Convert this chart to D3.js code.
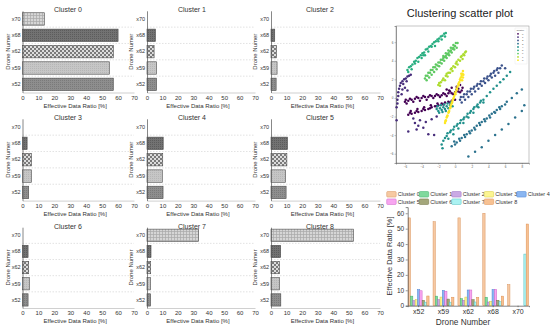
<!DOCTYPE html>
<html>
<head>
<meta charset="utf-8">
<script src="https://cdn.jsdelivr.net/npm/d3@7"></script>
<style>
body { margin: 0; background: #fff; }
svg { display: block; font-family: "Liberation Sans", Arial, sans-serif; }
</style>
</head>
<body>
<svg width="550" height="329"></svg>
<script>
// drone order used by the grouped chart (left to right)
const drones = ["x52", "x59", "x62", "x68", "x70"];
// order of the rows in the small panels (top to bottom)
const panelDrones = ["x70", "x68", "x62", "x59", "x52"];
const clusterNames = ["Cluster 0", "Cluster 1", "Cluster 2", "Cluster 3", "Cluster 4",
  "Cluster 5", "Cluster 6", "Cluster 7", "Cluster 8"];

// effective data ratio [%] per drone: x52, x59, x62, x68, x70
const cluster0 = [57, 54.5, 57, 60, 13.7];
const cluster1 = [6.2, 6.2, 4.6, 5.5, 0];
const cluster2 = [3.3, 3.9, 3.5, 2.4, 0];
const cluster3 = [3.9, 5.6, 5.6, 2.9, 0];
const cluster4 = [10.4, 9.9, 10.2, 10.5, 0];
const cluster5 = [9.7, 9.4, 10.2, 10.6, 0];
const cluster6 = [3.5, 4.3, 3.9, 3.5, 0];
const cluster7 = [2.3, 2.3, 2.4, 2.6, 33.5];
const cluster8 = [6.3, 5.5, 5.4, 6.2, 53];
const clusters = [cluster0, cluster1, cluster2, cluster3, cluster4, cluster5, cluster6, cluster7, cluster8];

const panelTicks = [0, 10, 20, 30, 40, 50, 60, 70];
const groupTicks = [0, 10, 20, 30, 40, 50, 60];
const scatterXTicks = [-6, -4, -2, 0, 2, 4, 6, 8];
const scatterYTicks = [-6, -4, -2, 0, 2, 4, 6];

// scatter points, one list per cluster
const scatter0 = [[-6.0,-0.4],[-5.6,-0.3],[-5.2,-0.2],[-4.8,-0.1],[-4.4,0.0],[-4.0,0.0],[-3.6,0.1],[-3.2,0.1],
  [-2.8,0.2],[-2.4,0.2],[-2.0,0.3],[-1.6,0.3],[-1.2,0.4],[-0.8,0.5],[-0.4,0.5],[0.0,0.6],[0.4,0.7],[0.8,0.8],
  [-5.8,-0.6],[-5.0,-0.4],[-4.2,-0.3],[-3.4,-0.2],[-2.6,0.0],[-1.8,0.1],[-1.0,0.2],[-0.2,0.4],[0.6,0.6],
  [-5.6,-1.8],[-5.2,-1.7],[-4.8,-1.6],[-4.4,-1.5],[-4.0,-1.4],[-3.6,-1.3],[-3.2,-1.2],[-2.8,-1.0],[-2.4,-0.9],
  [-2.0,-0.8],[-1.6,-0.6],[-1.2,-0.5],[-0.8,-0.4],[-0.4,-0.3],[0.0,-0.2],[-5.3,-1.4],[-4.5,-1.2],[-3.7,-1.0],
  [-2.9,-0.8],[-2.1,-0.6],[-1.0,0.9],[-0.4,1.1],[0.2,1.2],[0.6,1.4],[-0.7,0.8],[0.4,1.0],[0.9,1.1],
  [-5.9,-0.2],[-5.4,-0.1],[-4.6,0.1],[-3.8,0.2],[-3.0,0.3],[-2.2,0.4],[-1.4,0.5],[-0.6,0.7],[0.2,0.9],
  [-5.4,-1.6],[-4.6,-1.4],[-3.8,-1.2],[-3.0,-1.1],[-2.2,-0.9],[-1.4,-0.7],[-0.6,-0.5]];
const scatter1 = [[-7.0,-1.0],[-6.9,-0.6],[-6.9,-0.2],[-6.8,0.2],[-6.8,0.6],[-6.7,1.0],[-6.6,1.3],[-6.5,1.6],
  [-6.3,1.8],[-6.1,2.0],[-5.9,2.1],[-5.7,2.3],[-5.5,2.4],[-5.3,2.5],[-6.2,1.5],[-5.8,1.8],[-6.3,0.9],[-6.0,1.1],
  [-5.7,0.8],[-6.4,0.4],[-7.0,-2.4],[-5.6,-3.6],[-4.8,-2.7],[-4.4,-3.0],[-3.8,-3.2],[-3.2,-3.9],[-5.0,-2.2],
  [-4.2,-2.4],[-3.5,-2.6],[-2.8,-2.3],[-2.2,-2.0],[-4.6,-3.4],[-2.5,-4.0]];
const scatter2 = [[0.6,-0.2],[1.0,0.1],[1.4,0.4],[1.8,0.7],[2.2,1.0],[2.6,1.3],[3.0,1.5],[3.4,1.8],[3.8,2.1],
  [4.2,2.4],[4.6,2.7],[5.0,3.0],[5.4,3.2],[5.6,3.5],[0.8,-0.5],[1.2,-0.2],[1.6,0.1],[2.0,0.4],[2.4,0.7],
  [2.8,1.0],[3.2,1.3],[3.6,1.6],[4.0,1.9],[4.4,2.2],[4.8,2.4],[5.2,2.7],[6.0,3.2],
  [0.7,0.1],[1.1,0.4],[1.5,0.7],[1.9,1.0],[2.3,1.2],[2.7,1.5],[3.1,1.8],[3.5,2.1],[3.9,2.3],[4.3,2.6],
  [4.7,2.9],[5.1,3.2]];
const scatter3 = [[-0.4,-5.2],[0.2,-4.8],[0.8,-4.3],[1.4,-3.9],[2.0,-3.5],[2.6,-3.0],[3.2,-2.6],[3.8,-2.2],
  [4.4,-1.7],[5.0,-1.3],[5.6,-0.9],[6.2,-0.4],[6.8,0.0],[7.4,0.5],[8.0,0.9],[-0.1,-4.7],[0.5,-4.4],[1.1,-4.0],
  [1.7,-3.6],[2.3,-3.2],[2.9,-2.7],[3.5,-2.3],[4.1,-1.9],[4.7,-1.5],[5.3,-1.0],[1.6,-6.3],[2.4,-5.8],[3.2,-5.3],
  [4.0,-4.6],[4.8,-4.0],[5.6,-3.4],[6.4,-2.8],[7.2,-2.1],[8.0,-1.4],[8.3,-0.8],
  [0.0,-5.0],[0.6,-4.6],[1.2,-4.2],[1.8,-3.8],[2.4,-3.4],[3.0,-2.9],[3.6,-2.5],[4.2,-2.1],[4.8,-1.6],
  [5.4,-1.2],[6.0,-0.7]];
const scatter4 = [[-1.0,-4.1],[-0.6,-3.7],[-0.2,-3.4],[0.2,-3.0],[0.6,-2.7],[1.0,-2.3],[1.4,-2.0],[1.8,-1.6],
  [2.2,-1.2],[2.6,-0.9],[3.0,-0.5],[3.4,-0.2],[3.8,0.2],[4.2,0.6],[4.6,1.0],[5.0,1.3],[5.4,1.7],[5.8,2.0],
  [6.2,2.4],[6.6,2.8],[-0.8,-4.4],[-0.2,-3.9],[0.4,-3.3],[1.0,-2.7],[1.6,-2.1],[2.2,-1.6],[2.8,-1.0],[3.4,-0.5],
  [-1.6,-5.0],[-1.4,-4.6],[-1.2,-4.3],[-1.5,-5.4],[-2.2,-1.2],[-2.0,-1.4],[-1.8,-1.1],[-1.6,-1.3],[-1.4,-1.0],
  [-1.2,-1.2],[-1.0,-0.9],[-0.8,-1.1],[-0.6,-0.8],[-2.1,-0.9],[-1.7,-0.8],[-1.3,-0.7],[-0.9,-0.6],[-0.5,-0.5],
  [-0.3,-0.9],[-1.9,-1.6],[-1.5,-1.5],[-1.1,-1.4],
  [-0.9,-3.8],[-0.5,-3.5],[-0.1,-3.1],[0.3,-2.8],[0.7,-2.4],[1.1,-2.1],[1.5,-1.7],[1.9,-1.4],[2.3,-1.0],
  [2.7,-0.7],[3.1,-0.3]];
const scatter5 = [[-5.7,3.0],[-5.5,3.3],[-5.3,3.4],[-5.1,3.6],[-4.9,3.9],[-4.7,4.0],[-4.5,4.3],[-4.3,4.4],
  [-4.1,4.6],[-3.9,4.8],[-3.7,4.9],[-3.5,5.2],[-3.3,5.3],[-3.1,5.5],[-2.9,5.6],[-2.7,5.8],[-2.5,6.0],[-2.3,6.1],
  [-2.1,6.3],[-1.9,6.4],[-1.7,6.6],[-1.5,6.7],[-1.3,6.9],[-1.1,7.0],[-4.8,3.7],[-3.8,4.6],[-2.8,5.5],[-2.0,6.1],
  [-5.6,2.8],[-5.2,3.1],[-4.4,3.9],[-4.0,4.3],[-3.6,4.6],[-3.2,5.0],[-2.4,5.6],[-1.6,6.3],[-1.2,6.6]];
const scatter6 = [[-3.6,2.1],[-3.3,2.4],[-3.0,2.7],[-2.7,3.0],[-2.4,3.3],[-2.1,3.5],[-1.8,3.8],[-1.5,4.1],
  [-1.2,4.4],[-0.9,4.7],[-0.6,5.0],[-0.3,5.3],[0.0,5.6],[0.3,5.9],[-3.4,1.9],[-3.1,2.2],[-2.8,2.5],[-2.5,2.8],
  [-2.2,3.1],[-1.9,3.4],[-1.6,3.7],[-1.3,4.0],[-1.0,4.3],[-0.7,4.6],[-0.4,4.9],[-0.1,5.2],[0.2,5.4],
  [-1.4,4.3],[-1.1,4.5],[-0.8,4.8],[-0.5,5.1],[-0.2,5.4],
  [-3.5,2.4],[-3.2,2.7],[-2.9,3.0],[-2.6,3.3],[-2.3,3.6],[-2.0,3.8],[-1.7,4.1],[-1.4,4.5],[-1.1,4.8],
  [-0.8,5.1],[-0.5,5.4],[-0.2,5.7],[0.1,5.9]];
const scatter7 = [[-2.0,1.4],[-1.7,1.7],[-1.4,2.1],[-1.1,2.4],[-0.8,2.7],[-0.5,3.1],[-0.2,3.4],[0.1,3.7],
  [0.4,4.1],[0.7,4.4],[1.0,4.7],[1.3,5.0],[-1.8,1.3],[-1.2,1.9],[-0.6,2.7],[0.0,3.3],[0.6,4.0],[1.1,4.6],
  [-1.9,1.6],[-1.5,1.9],[-1.0,2.6],[-0.4,3.2],[0.2,3.9],[0.8,4.5],[1.2,4.9],[-0.9,2.3],[-0.3,2.9],[0.3,3.6],
  [0.9,4.2]];
const scatter8 = [[-1.2,-2.7],[-1.1,-2.4],[-1.0,-2.1],[-0.9,-1.9],[-0.8,-1.6],[-0.7,-1.4],[-0.6,-1.1],[-0.5,-0.8],
  [-0.4,-0.6],[-0.3,-0.3],[-0.2,-0.1],[-0.1,0.2],[0.0,0.5],[0.1,0.7],[0.2,1.0],[0.3,1.2],[0.4,1.5],[0.5,1.7],
  [0.6,2.0],[0.7,2.2],[0.8,2.4],[0.9,2.6],[1.0,2.5],[0.95,2.2],[0.85,1.9],
  [-1.15,-2.5],[-0.95,-2.0],[-0.75,-1.5],[-0.55,-1.0],[-0.35,-0.5],[-0.15,0.0],[0.05,0.4],[0.25,0.9],
  [0.45,1.4],[0.65,1.9],[0.75,2.6],[0.95,2.9]];
const scatterSets = [scatter0, scatter1, scatter2, scatter3, scatter4, scatter5, scatter6, scatter7, scatter8];

// pastel colours of the grouped chart
const groupFill = ["#f6c9a2", "#80d99d", "#caa9e4", "#fcf591", "#8ab6f1", "#f7a6f0", "#a4a77b", "#abf2f2", "#f7c192"];
const groupStroke = ["#d99560", "#3fb16b", "#9b70c2", "#d6ca3e", "#4b82d2", "#cf62c8", "#6e7142", "#52c2c2", "#df9052"];

let svg = d3.select("svg");
let defs = svg.append("defs");

// fill patterns for each drone in the small panels
function addPattern(id, size, bg, cells) {
  let p = defs.append("pattern").attr("id", id).attr("patternUnits", "userSpaceOnUse")
    .attr("width", size).attr("height", size);
  p.append("rect").attr("width", size).attr("height", size).attr("fill", bg);
  cells.forEach(function(c) {
    p.append("rect").attr("x", c[0]).attr("y", c[1]).attr("width", c[2]).attr("height", c[3]).attr("fill", c[4]);
  });
}
addPattern("p-x70", 3, "#d6d6d6", [[0, 0, 3, 0.7, "#a9a9a9"], [0, 0, 0.7, 3, "#a9a9a9"]]);
addPattern("p-x68", 2, "#727272", [[0, 0, 1, 1, "#5c5c5c"]]);
addPattern("p-x62", 4, "#7a7a7a", [[0, 0, 2, 2, "#dcdcdc"], [2, 2, 2, 2, "#dcdcdc"]]);
addPattern("p-x59", 2, "#c6c6c6", [[0, 0, 1, 1, "#b6b6b6"]]);
addPattern("p-x52", 2, "#8e8e8e", [[0, 0, 1, 1, "#7a7a7a"]]);

// small panel layout: columns and rows
const cols = [
  { x0: 22.5, x1: 134, title: 68, lab: 7.5 },
  { x0: 147, x1: 255, title: 192, lab: 131 },
  { x0: 271, x1: 380, title: 320, lab: 255 }
];
const rows = [
  { y0: 10.8, y1: 92.5 },
  { y0: 118.8, y1: 200.6 },
  { y0: 227.2, y1: 308 }
];

clusters.forEach(function(vals, k) {
  let c = cols[k % 3], r = rows[Math.floor(k / 3)];
  let xScale = d3.scaleLinear().domain([0, 70]).range([c.x0, c.x1]);
  let yScale = d3.scaleBand().domain(panelDrones).range([r.y0, r.y1])
    .paddingInner(0.24).paddingOuter(0.12);
  let g = svg.append("g");

  // dashed separators between rows
  panelDrones.slice(1).forEach(function(d) {
    let y = yScale(d) - yScale.step() * 0.12;
    g.append("line").attr("x1", c.x0).attr("x2", c.x1).attr("y1", y).attr("y2", y)
      .attr("stroke", "#cfcfcf").attr("stroke-width", 0.6).attr("stroke-dasharray", "1.5,1.5");
  });

  g.selectAll(".bar").data(drones).enter().append("rect")
    .attr("class", "bar")
    .attr("x", xScale(0))
    .attr("y", function(d) { return yScale(d); })
    .attr("width", function(d, i) { return xScale(vals[i]) - xScale(0); })
    .attr("height", yScale.bandwidth())
    .attr("fill", function(d) { return "url(#p-" + d + ")"; })
    .attr("stroke", function(d, i) { return vals[i] > 0 ? "#4a4a4a" : "none"; })
    .attr("stroke-width", 0.6);

  let xAxis = g.append("g").attr("transform", "translate(0," + r.y1 + ")")
    .call(d3.axisBottom(xScale).tickValues(panelTicks).tickSize(0).tickPadding(3));
  xAxis.select(".domain").attr("stroke", "#b0b0b0").attr("stroke-width", 0.6);
  xAxis.selectAll("text").attr("font-size", 6).attr("fill", "#333").attr("font-family", null);

  let yAxis = g.append("g").attr("transform", "translate(" + c.x0 + ",0)")
    .call(d3.axisLeft(yScale).tickSize(0).tickPadding(2));
  yAxis.select(".domain").attr("stroke", "#555").attr("stroke-width", 0.7);
  yAxis.selectAll("text").attr("font-size", 5.5).attr("fill", "#333").attr("font-family", null);

  g.append("text").attr("x", c.title).attr("y", r.y0 + 1.4).attr("text-anchor", "middle")
    .attr("font-size", 7).attr("fill", "#333").text(clusterNames[k]);
  g.append("text").attr("x", (c.x0 + c.x1) / 2 - 3).attr("y", r.y1 + 15.3).attr("text-anchor", "middle")
    .attr("font-size", 6).attr("fill", "#333").text("Effective Data Ratio [%]");
  g.append("text").attr("transform", "translate(" + c.lab + "," + (r.y0 + r.y1) / 2 + ") rotate(-90)")
    .attr("text-anchor", "middle").attr("dy", "0.35em")
    .attr("font-size", 6).attr("fill", "#333").text("Drone Numer");
});

// clustering scatter plot
let sx = d3.scaleLinear().domain([-7.07, 8.86]).range([396, 529]);
let sy = d3.scaleLinear().domain([-7, 7.74]).range([163, 26]);
let sg = svg.append("g");
sg.append("text").attr("x", 460).attr("y", 16.5).attr("text-anchor", "middle")
  .attr("font-size", 11).attr("fill", "#222").text("Clustering scatter plot");
sg.append("rect").attr("x", 396).attr("y", 26).attr("width", 133).attr("height", 137)
  .attr("fill", "none").attr("stroke", "#8a8a8a").attr("stroke-width", 0.5);
let sxAxis = sg.append("g").attr("transform", "translate(0,163)")
  .call(d3.axisBottom(sx).tickValues(scatterXTicks).tickSize(1.5).tickPadding(1));
let syAxis = sg.append("g").attr("transform", "translate(396,0)")
  .call(d3.axisLeft(sy).tickValues(scatterYTicks).tickSize(1.5).tickPadding(1));
[sxAxis, syAxis].forEach(function(a) {
  a.select(".domain").attr("stroke", "#444").attr("stroke-width", 0.5);
  a.selectAll("line").attr("stroke", "#666").attr("stroke-width", 0.4);
  a.selectAll("text").attr("font-size", 3).attr("fill", "#555").attr("font-family", null);
});
scatterSets.forEach(function(pts, k) {
  sg.selectAll(".pt" + k).data(pts).enter().append("circle")
    .attr("class", "pt" + k)
    .attr("cx", function(d) { return sx(d[0]); })
    .attr("cy", function(d) { return sy(d[1]); })
    .attr("r", 1.25)
    .attr("fill", d3.interpolateViridis(k / 8));
});
// tiny legend inside the scatter
sg.append("rect").attr("x", 515).attr("y", 28).attr("width", 12).attr("height", 36)
  .attr("fill", "#fff").attr("stroke", "#ddd").attr("stroke-width", 0.3);
sg.append("text").attr("x", 516.5).attr("y", 31).attr("font-size", 2.4).attr("fill", "#444").text("Cluster");
clusterNames.forEach(function(n, k) {
  sg.append("circle").attr("cx", 518).attr("cy", 33.8 + k * 3.3).attr("r", 0.9)
    .attr("fill", d3.interpolateViridis(k / 8));
  sg.append("text").attr("x", 522).attr("y", 34.6 + k * 3.3).attr("font-size", 2.4)
    .attr("fill", "#444").text(k);
});

// grouped bar chart
let gx = d3.scaleBand().domain(drones).range([407.7, 529]).paddingInner(0.16).paddingOuter(0.02);
let gx1 = d3.scaleBand().domain(d3.range(9)).range([0, gx.bandwidth()]);
let gy = d3.scaleLinear().domain([0, 64]).range([305.7, 207.1]);
let bg = svg.append("g");

clusters.forEach(function(vals, k) {
  bg.selectAll(".gbar" + k).data(drones).enter().append("rect")
    .attr("class", "gbar" + k)
    .attr("x", function(d) { return gx(d) + gx1(k); })
    .attr("y", function(d, i) { return gy(vals[i]); })
    .attr("width", gx1.bandwidth())
    .attr("height", function(d, i) { return gy(0) - gy(vals[i]); })
    .attr("fill", groupFill[k])
    .attr("stroke", function(d, i) { return vals[i] > 0 ? groupStroke[k] : "none"; })
    .attr("stroke-width", 0.5);
});

let gyAxis = bg.append("g").attr("transform", "translate(407.7,0)")
  .call(d3.axisLeft(gy).tickValues(groupTicks).tickSize(2).tickPadding(1.5));
gyAxis.select(".domain").attr("stroke", "#333").attr("stroke-width", 0.6);
gyAxis.selectAll("line").attr("stroke", "#333").attr("stroke-width", 0.5);
gyAxis.selectAll("text").attr("font-size", 6.5).attr("fill", "#333").attr("font-family", null);

let gxAxis = bg.append("g").attr("transform", "translate(0,305.7)")
  .call(d3.axisBottom(gx).tickSize(1.5).tickPadding(2));
gxAxis.select(".domain").attr("stroke", "#333").attr("stroke-width", 0.6);
gxAxis.selectAll("line").attr("stroke", "#333").attr("stroke-width", 0.5);
gxAxis.selectAll("text").attr("font-size", 7).attr("fill", "#333").attr("font-family", null);

bg.append("text").attr("x", 463).attr("y", 325.3).attr("text-anchor", "middle")
  .attr("font-size", 8.3).attr("fill", "#333").text("Drone Number");
bg.append("text").attr("transform", "translate(389,256) rotate(-90)")
  .attr("text-anchor", "middle").attr("dy", "0.35em")
  .attr("font-size", 7.5).attr("fill", "#333").text("Effective Data Ratio [%]");

// legend of the grouped chart: two rows
clusterNames.forEach(function(n, k) {
  let lx = 386.7 + (k % 5) * 32.5;
  let ly = k < 5 ? 194.3 : 201.7;
  bg.append("rect").attr("x", lx).attr("y", ly - 2.8).attr("width", 9.5).attr("height", 5.6)
    .attr("rx", 1).attr("fill", groupFill[k]).attr("stroke", groupStroke[k]).attr("stroke-width", 0.5);
  bg.append("text").attr("x", lx + 11).attr("y", ly + 2).attr("font-size", 5.5)
    .attr("fill", "#333").text(n);
});
</script>
</body>
</html>
